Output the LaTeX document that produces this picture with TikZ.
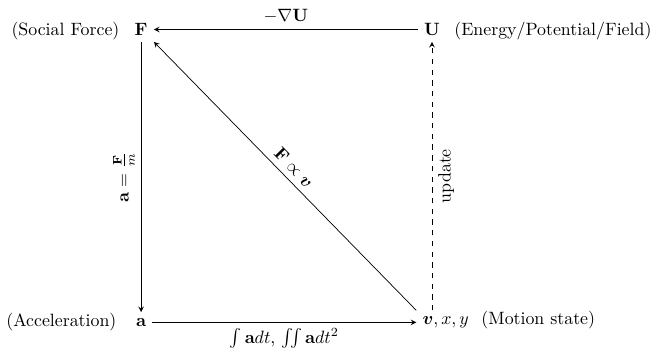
\documentclass[tikz,border=0pt]{standalone}
\usepackage{amsmath}
\usetikzlibrary{calc, positioning}

\begin{document}
\begin{tikzpicture}[>=stealth, arr/.style={->}, upd/.style={->, dashed}]
    \useasboundingbox (-2.78,-0.644) rectangle (10.22,6.35);
    % corners of the square
    \node (F) at (0,5.77) {$\mathbf{F}$};
    \node (U) at (5.73,5.77) {$\mathbf{U}$};
    \node (a) at (0,0) {$\mathbf{a}$};
    \node[anchor=west] (v) at (5.42,0) {$\boldsymbol{v}, x, y$};
    % side names
    \node[anchor=base east] (force) at ([xshift=-1.5pt]F.base west) {(Social Force)};
    \node[anchor=base west] (field) at ([xshift=1pt]U.base east) {(Energy/Potential/Field)};
    \node[anchor=base east] (accel) at ([xshift=-4pt]a.base west) {(Acceleration)};
    \node[anchor=base west] (motion) at (v.base east) {(Motion state)};
    % connectors
    \draw[arr] (U) -- node[above] {$-\nabla\mathbf{U}$} (F);
    \draw[arr] (F) -- node[midway, rotate=90, anchor=south] {$\mathbf{a}=\frac{\mathbf{F}}{m}$} (a);
    \draw[arr] (a) -- node[below] {$\int \mathbf{a}dt$, $\iint \mathbf{a}dt^2$} (v);
    \draw[<-] (F.south east) -- node[sloped, above] {$\mathbf{F}\propto\boldsymbol{v}$} (v.north west);
    \draw[upd] (v.north west -| U) -- node[midway, rotate=90, anchor=north] {update} (U);
\end{tikzpicture}
\end{document}
